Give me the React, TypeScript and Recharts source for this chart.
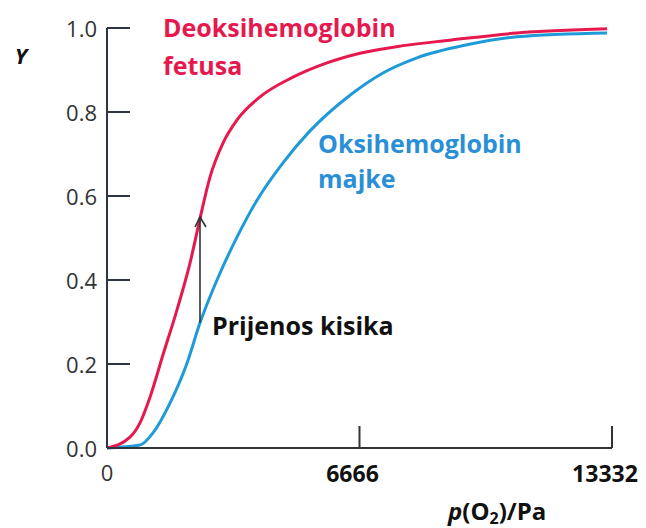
import React from 'react';
import { LineChart, Line, XAxis, YAxis, ReferenceLine } from 'recharts';

// fetal deoxyhemoglobin curve (red)
const fetalX = [0, 607, 871, 1135, 1478, 1848, 2191, 2455, 2719, 3062, 3432, 4039, 4910, 5808, 6679, 7814, 9055, 10824, 13200];
const fetalY = [0, 0.026, 0.06, 0.121, 0.222, 0.329, 0.44, 0.546, 0.645, 0.726, 0.781, 0.836, 0.883, 0.917, 0.94, 0.958, 0.971, 0.988, 0.998];

// maternal oxyhemoglobin curve (blue)
const maternalX = [0, 871, 1214, 1663, 2112, 2455, 2904, 3432, 3960, 4646, 5359, 6415, 7286, 8184, 9504, 10824, 13200];
const maternalY = [0, 0.007, 0.036, 0.107, 0.202, 0.298, 0.4, 0.502, 0.59, 0.679, 0.755, 0.84, 0.893, 0.929, 0.96, 0.979, 0.988];

const xTicks = [0, 6666, 13332];
const yTicks = [0, 0.2, 0.4, 0.6, 0.8, 1.0];

// oxygen transfer arrow
const arrowX = 2455;
const arrowFrom = 0.298;
const arrowTo = 0.55;

const fetalData = fetalX.map((x, i) => ({ x, y: fetalY[i] }));
const maternalData = maternalX.map((x, i) => ({ x, y: maternalY[i] }));

const RED = '#e6194f';
const BLUE = '#1f9ad8';
const FONT = '"Open Sans", "Liberation Sans", sans-serif';

const YTick = (props: any) => {
  const { x, y, payload } = props;
  return (
    <g>
      <line x1={x} y1={y} x2={x + 23} y2={y} stroke="#2e3440" strokeWidth={2} />
      <text x={x - 10} y={y} textAnchor="end" dominantBaseline="central" fontFamily={FONT} fontSize={22} fill="#333">
        {Number(payload.value).toFixed(1)}
      </text>
    </g>
  );
};

const XTick = (props: any) => {
  const { x, y, payload } = props;
  if (payload.value === 0) {
    return (
      <text x={x} y={y + 24} textAnchor="middle" dominantBaseline="central" fontFamily={FONT} fontSize={22} fill="#333">
        0
      </text>
    );
  }
  return (
    <g>
      <line x1={x} y1={y} x2={x} y2={y - 22} stroke="#333" strokeWidth={2} />
      <text x={x - 7} y={y + 25} textAnchor="middle" dominantBaseline="central" fontFamily={FONT} fontSize={23} fontWeight={700} fill="#111">
        {payload.value}
      </text>
    </g>
  );
};

const Arrow = (props: any) => {
  const { x1, y1, x2, y2 } = props;
  return (
    <g>
      <line x1={x1} y1={y1} x2={x2} y2={y2} stroke="#333" strokeWidth={1.6} />
      <polyline points={`${x2 - 5},${y2 + 10} ${x2},${y2} ${x2 + 6},${y2 + 10}`} fill="none" stroke="#333" strokeWidth={1.6} />
    </g>
  );
};

export default function App() {
  return (
    <div style={{ position: 'absolute', left: 0, top: 0, width: 646, height: 528, background: '#fff', overflow: 'hidden' }}>
      <LineChart width={646} height={528} margin={{ top: 28, right: 34, bottom: 0, left: 0 }}>
        <XAxis
          dataKey="x"
          type="number"
          domain={[0, 13332]}
          ticks={xTicks}
          height={80}
          tickSize={0}
          tickMargin={0}
          tickLine={false}
          axisLine={{ stroke: '#333', strokeWidth: 2 }}
          tick={<XTick />}
        />
        <YAxis
          dataKey="y"
          type="number"
          domain={[0, 1]}
          ticks={yTicks}
          width={107}
          tickSize={0}
          tickMargin={0}
          tickLine={false}
          axisLine={{ stroke: '#2e3440', strokeWidth: 2 }}
          tick={<YTick />}
        />
        <Line data={maternalData} dataKey="y" type="monotone" stroke={BLUE} strokeWidth={3} dot={false} isAnimationActive={false} />
        <Line data={fetalData} dataKey="y" type="monotone" stroke={RED} strokeWidth={3} dot={false} isAnimationActive={false} />
        <ReferenceLine
          segment={[{ x: arrowX, y: arrowFrom }, { x: arrowX, y: arrowTo }]}
          shape={(p: any) => <Arrow {...p} />}
        />
      </LineChart>
      <svg width={646} height={528} style={{ position: 'absolute', left: 0, top: 0, pointerEvents: 'none' }}>
        <g fontFamily={FONT} fontWeight={700}>
          <text x={21} y={64} textAnchor="middle" fontSize={22} fontStyle="italic" fill="#111">Y</text>
          <text x={163} y={37} fontSize={25} fill={RED}>Deoksihemoglobin</text>
          <text x={163} y={75} fontSize={25} fill={RED}>fetusa</text>
          <text x={318} y={153} fontSize={25} fill="#2b8fd6">Oksihemoglobin</text>
          <text x={318} y={188} fontSize={25} fill="#2b8fd6">majke</text>
          <text x={212} y={335} fontSize={25} fill="#111">Prijenos kisika</text>
          <text x={448} y={520} fontSize={24} fill="#111">
            <tspan fontStyle="italic">p</tspan>
            <tspan>(O</tspan>
            <tspan fontSize={16} dy={4}>2</tspan>
            <tspan dy={-4}>)/Pa</tspan>
          </text>
        </g>
      </svg>
    </div>
  );
}
